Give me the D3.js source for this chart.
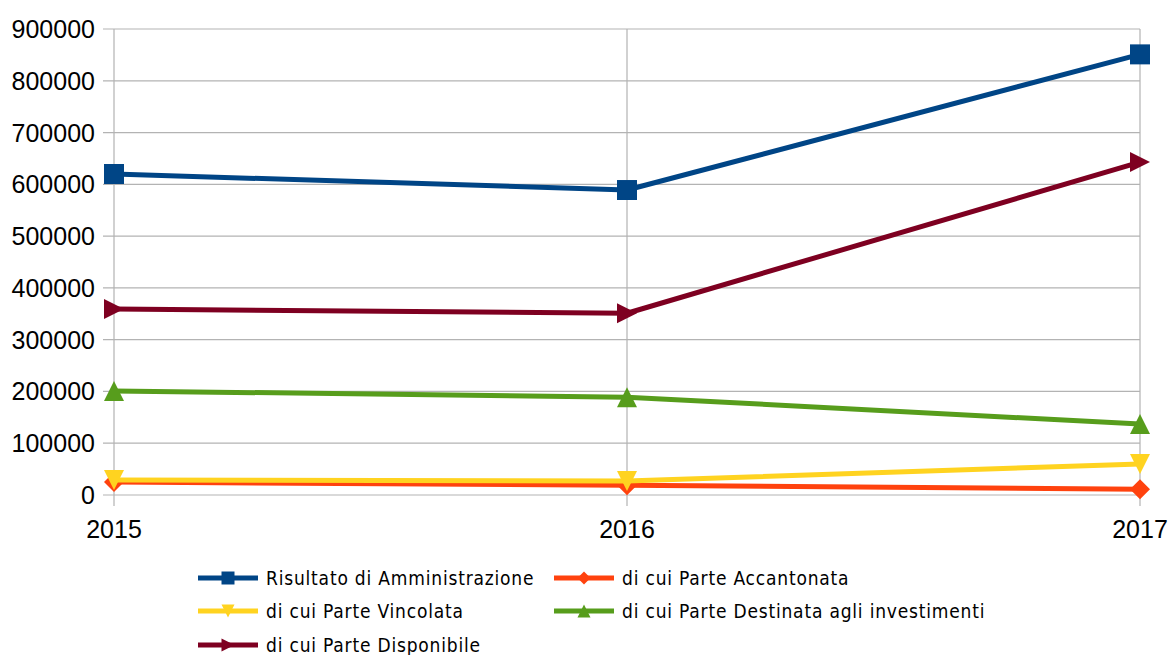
<!DOCTYPE html>
<html><head><meta charset="utf-8">
<script src="https://cdn.jsdelivr.net/npm/d3@7"></script>
<style>body{margin:0;background:#fff}svg{display:block}</style>
</head><body>
<svg id="c" width="1168" height="655"></svg>
<script>
const years = ["2015","2016","2017"];
const yTicks = [0,100000,200000,300000,400000,500000,600000,700000,800000,900000];
const seriesNames = ["Risultato di Amministrazione","di cui Parte Accantonata","di cui Parte Vincolata","di cui Parte Destinata agli investimenti","di cui Parte Disponibile"];
const risultato = [620000, 589000, 851000];
const accantonata = [25000, 19000, 11000];
const vincolata = [29000, 27000, 60000];
const destinata = [201000, 189000, 137000];
const disponibile = [359000, 351000, 643000];
const colors = ["#004586","#ff420e","#ffd320","#579d1c","#7e0021"];
const markers = ["square","diamond","down","up","right"];

const series = [risultato, accantonata, vincolata, destinata, disponibile].map((v,i)=>({name:seriesNames[i], values:v, color:colors[i], marker:markers[i]}));

const svg = d3.select("#c");
const x = d3.scalePoint().domain(years).range([114,1140]);
const y = d3.scaleLinear().domain([0,900000]).range([495,29]);

// horizontal grid
svg.append("g").selectAll("line").data(yTicks).join("line")
  .attr("x1",103).attr("x2",1140).attr("y1",d=>y(d)).attr("y2",d=>y(d))
  .attr("stroke","#b3b3b3").attr("stroke-width",1.2);
// vertical grid
svg.append("g").selectAll("line").data(years).join("line")
  .attr("x1",d=>x(d)).attr("x2",d=>x(d)).attr("y1",y(900000)).attr("y2",506)
  .attr("stroke","#b3b3b3").attr("stroke-width",1.2);

// y labels
svg.append("g").selectAll("text").data(yTicks).join("text")
  .attr("x",95).attr("y",d=>y(d)).attr("dy","0.36em").attr("text-anchor","end")
  .attr("font-family","Liberation Sans, Arial, sans-serif").attr("font-size",25).attr("fill","#000")
  .text(d=>d);
// x labels
svg.append("g").selectAll("text").data(years).join("text")
  .attr("x",d=>x(d)).attr("y",538).attr("text-anchor","middle")
  .attr("font-family","Liberation Sans, Arial, sans-serif").attr("font-size",25).attr("fill","#000")
  .text(d=>d);

function markerPath(type, s){
  const h = s/2;
  switch(type){
    case "square": return `M${-h},${-h}H${h}V${h}H${-h}Z`;
    case "diamond": return `M0,${-h}L${h},0L0,${h}L${-h},0Z`;
    case "down": return `M${-h},${-h}H${h}L0,${h}Z`;
    case "up": return `M${-h},${h}H${h}L0,${-h}Z`;
    case "right": return `M${-h},${-h}L${h},0L${-h},${h}Z`;
  }
}

const line = d3.line().x((d,i)=>x(years[i])).y(d=>y(d));
const g = svg.append("g");
series.forEach(s=>{
  g.append("path").attr("d",line(s.values)).attr("fill","none")
    .attr("stroke",s.color).attr("stroke-width",5).attr("stroke-linejoin","round");
  g.selectAll(null).data(s.values).join("path")
    .attr("transform",(d,i)=>`translate(${x(years[i])},${y(d)})`)
    .attr("d",markerPath(s.marker,20)).attr("fill",s.color);
});

// legend
const legRows = [578,578,611,611,645];
const lg = svg.append("g");
series.forEach((s,i)=>{
  const ly = legRows[i];
  const xx = i%2===0 ? 198 : 554;
  lg.append("line").attr("x1",xx).attr("x2",xx+60).attr("y1",ly).attr("y2",ly)
    .attr("stroke",s.color).attr("stroke-width",5);
  lg.append("path").attr("transform",`translate(${xx+30},${ly})`).attr("d",markerPath(s.marker,13)).attr("fill",s.color);
  lg.append("text").attr("x",xx+68).attr("y",ly).attr("dy","0.35em")
    .attr("font-family","DejaVu Sans Condensed, Liberation Sans Narrow, sans-serif").attr("font-size",19)
    .attr("letter-spacing","0.8px").attr("fill","#000")
    .text(s.name);
});
</script>
</body></html>
